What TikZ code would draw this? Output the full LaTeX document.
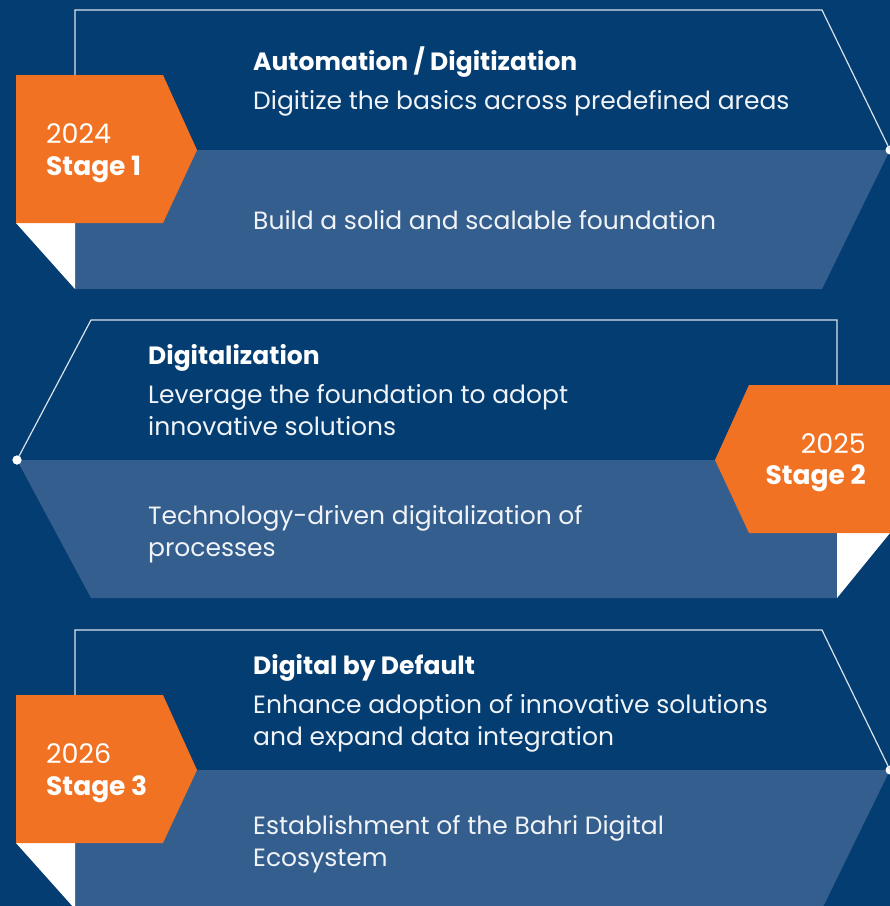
\documentclass[tikz,border=0pt]{standalone}
\usepackage{fontspec}
\setmainfont{Poppins}
\definecolor{bgblue}{RGB}{4,61,114}
\definecolor{lightblue}{RGB}{52,94,141}
\definecolor{tabor}{RGB}{242,114,36}
\begin{document}
\begin{tikzpicture}[x=1pt,y=-1pt,
  outline/.style={draw=white!85!bgblue,line width=1.2pt},
  band/.style={fill=lightblue},
  tab/.style={fill=tabor},
  fold/.style={fill=white},
  bodytxt/.style={text=white!94!bgblue,inner sep=0pt,anchor=base west,font=\fontsize{25}{30}\selectfont},
  titletxt/.style={text=white,inner sep=0pt,anchor=base west,font=\fontsize{25}{30}\selectfont\bfseries},
  yeartxt/.style={text=white,inner sep=0pt,font=\fontsize{27}{30}\selectfont},
  stagetxt/.style={text=white,inner sep=0pt,font=\fontsize{26.5}{30}\selectfont\bfseries},
  dot/.style={circle,fill=white,inner sep=0pt,minimum size=9pt}
]
\useasboundingbox[fill=bgblue] (0,0) rectangle (890,906);

% ---------- Stage 1 ----------
\fill[band] (75,150) -- (890,150) -- (822,289) -- (75,289) -- cycle;
\coordinate (s1a) at (75,75);
\coordinate (s1b) at (75,10);
\coordinate (s1c) at (822,10);
\node[dot] (s1dot) at (890,150) {};
\draw[outline] (s1a) -- (s1b) -- (s1c) -- (s1dot.center);
\fill[fold] (16,223) -- (75,223) -- (75,289) -- cycle;
\fill[tab] (16,75) -- (163,75) -- (197,150) -- (163,223) -- (16,223) -- cycle;
\node[yeartxt,anchor=base west] (y1) at (46,143) {2024};
\node[stagetxt,anchor=base west] (st1) at (46,175) {Stage 1};
\node[titletxt] (t1) at (253,70) {Automation / Digitization};
\node[bodytxt] (b1a) at (253,109) {Digitize the basics across predefined areas};
\node[bodytxt] (b1b) at (253,229) {Build a solid and scalable foundation};

% ---------- Stage 2 ----------
\fill[band] (17,460) -- (837,460) -- (837,598) -- (91,598) -- cycle;
\coordinate (s2a) at (837,385);
\coordinate (s2b) at (837,320);
\coordinate (s2c) at (91,320);
\node[dot] (s2dot) at (17,460) {};
\draw[outline] (s2a) -- (s2b) -- (s2c) -- (s2dot.center);
\node[dot] at (17,460) {};
\fill[fold] (837,533) -- (890,533) -- (837,598) -- cycle;
\fill[tab] (890,385) -- (749,385) -- (715,460) -- (749,533) -- (890,533) -- cycle;
\node[yeartxt,anchor=base east] (y2) at (866,453) {2025};
\node[stagetxt,anchor=base east] (st2) at (866,484) {Stage 2};
\node[titletxt] (t2) at (148,364) {Digitalization};
\node[bodytxt] (b2a) at (148,403) {Leverage the foundation to adopt};
\node[bodytxt] (b2b) at (148,435) {innovative solutions};
\node[bodytxt] (b2c) at (148,524) {Technology-driven digitalization of};
\node[bodytxt] (b2d) at (148,556) {processes};

% ---------- Stage 3 ----------
\fill[band] (75,770) -- (890,770) -- (822,909) -- (75,909) -- cycle;
\coordinate (s3a) at (75,695);
\coordinate (s3b) at (75,630);
\coordinate (s3c) at (822,630);
\node[dot] (s3dot) at (890,770) {};
\draw[outline] (s3a) -- (s3b) -- (s3c) -- (s3dot.center);
\fill[fold] (16,843) -- (75,843) -- (75,909) -- cycle;
\fill[tab] (16,695) -- (163,695) -- (197,770) -- (163,843) -- (16,843) -- cycle;
\node[yeartxt,anchor=base west] (y3) at (46,763) {2026};
\node[stagetxt,anchor=base west] (st3) at (46,795) {Stage 3};
\node[titletxt] (t3) at (253,674) {Digital by Default};
\node[bodytxt] (b3a) at (253,713) {Enhance adoption of innovative solutions};
\node[bodytxt] (b3b) at (253,745) {and expand data integration};
\node[bodytxt] (b3c) at (253,834) {Establishment of the Bahri Digital};
\node[bodytxt] (b3d) at (253,866) {Ecosystem};
\end{tikzpicture}
\end{document}
